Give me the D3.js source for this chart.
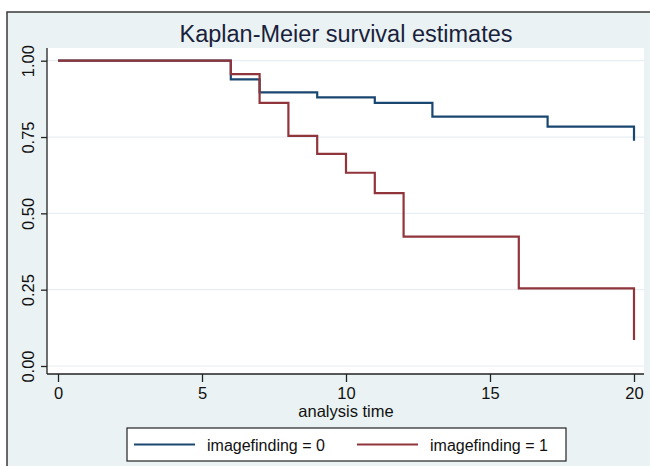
<!DOCTYPE html>
<html>
<head>
<meta charset="utf-8">
<script src="https://cdn.jsdelivr.net/npm/d3@7"></script>
<style>
  body { margin: 0; background: #fff; }
  svg text { font-family: "Liberation Sans", Arial, sans-serif; }
</style>
</head>
<body>
<svg id="km"></svg>
<script>
// Data
let groupNames = ['imagefinding = 0', 'imagefinding = 1'];
let times0 = [0, 6, 7, 9, 11, 13, 17, 20];
let surv0 = [1, 0.939, 0.896, 0.880, 0.862, 0.817, 0.784, 0.738];
let times1 = [0, 6, 7, 8, 9, 10, 11, 12, 16, 20];
let surv1 = [1, 0.956, 0.862, 0.754, 0.695, 0.633, 0.566, 0.424, 0.254, 0.085];
let xTicks = [0, 5, 10, 15, 20];
let yTicks = [0, 0.25, 0.5, 0.75, 1];

let width = 650;
let height = 466;
let colors = ['#1a476f', '#90353b'];

let svg = d3.select('#km').attr('width', width).attr('height', height);

// outer graph region
svg.append('rect')
    .attr('x', 7).attr('y', 12)
    .attr('width', width).attr('height', height)
    .attr('fill', '#eaf2f3')
    .attr('stroke', '#3a3a3a')
    .attr('stroke-width', 1.5);

// plot region
let plot = {left: 47, right: 644, top: 48, bottom: 374};
svg.append('rect')
    .attr('x', plot.left).attr('y', plot.top)
    .attr('width', plot.right - plot.left)
    .attr('height', plot.bottom - plot.top)
    .attr('fill', '#fff');

let xScale = d3.scaleLinear().domain([0, 20]).range([58, 634]);
let yScale = d3.scaleLinear().domain([0, 1]).range([366, 60.7]);

// grid
svg.append('g')
    .selectAll('line')
    .data(yTicks)
    .enter()
    .append('line')
    .attr('x1', plot.left).attr('x2', plot.right)
    .attr('y1', d => yScale(d)).attr('y2', d => yScale(d))
    .attr('stroke', '#e6eef2')
    .attr('stroke-width', 1.2);

// axes
let xAxis = d3.axisBottom(xScale).tickValues(xTicks).tickSize(8).tickPadding(5).tickFormat(d3.format('d'));
let yAxis = d3.axisLeft(yScale).tickValues(yTicks).tickSize(6).tickPadding(6).tickFormat(d3.format('.2f'));

let gx = svg.append('g')
    .attr('transform', 'translate(0,' + plot.bottom + ')')
    .call(xAxis);
gx.select('.domain').attr('d', 'M' + plot.left + ',0H' + plot.right);

let gy = svg.append('g')
    .attr('transform', 'translate(' + plot.left + ',0)')
    .call(yAxis);
gy.select('.domain').attr('d', 'M0,' + plot.top + 'V' + plot.bottom);

[gx, gy].forEach(g => {
    g.selectAll('.domain, line').attr('stroke', '#222').attr('stroke-width', 1.3);
    g.selectAll('text').attr('fill', '#111').style('font-size', '16.5px')
        .style('font-family', '"Liberation Sans", Arial, sans-serif');
});

gy.selectAll('.tick text')
    .attr('text-anchor', 'middle')
    .attr('dy', null)
    .attr('x', 0)
    .attr('transform', 'translate(-13,0) rotate(-90)')
    .attr('y', 0)
    .attr('dominant-baseline', 'auto');

// curves
let line = d3.line()
    .x(d => xScale(d[0]))
    .y(d => yScale(d[1]))
    .curve(d3.curveStepAfter);

let series = [
    times0.map((t, i) => [t, surv0[i]]),
    times1.map((t, i) => [t, surv1[i]])
];

svg.append('g')
    .selectAll('path')
    .data(series)
    .enter()
    .append('path')
    .attr('d', line)
    .attr('fill', 'none')
    .attr('stroke', (d, i) => colors[i])
    .attr('stroke-width', 2.2);

// title
svg.append('text')
    .attr('x', 346).attr('y', 42)
    .attr('text-anchor', 'middle')
    .style('font-size', '23.5px')
    .attr('fill', '#1a1f3c')
    .text('Kaplan-Meier survival estimates');

// x label
svg.append('text')
    .attr('x', 346).attr('y', 417)
    .attr('text-anchor', 'middle')
    .style('font-size', '16.5px')
    .attr('fill', '#111')
    .text('analysis time');

// legend
let legend = svg.append('g');
legend.append('rect')
    .attr('x', 127).attr('y', 428)
    .attr('width', 439).attr('height', 33)
    .attr('fill', '#fff')
    .attr('stroke', '#222')
    .attr('stroke-width', 1.2);

let legendX = [134, 357];
groupNames.forEach((name, i) => {
    legend.append('line')
        .attr('x1', legendX[i]).attr('x2', legendX[i] + 61)
        .attr('y1', 444.5).attr('y2', 444.5)
        .attr('stroke', colors[i])
        .attr('stroke-width', 2.2);
    legend.append('text')
        .attr('x', legendX[i] + 73).attr('y', 450.5)
        .style('font-size', '16px')
        .attr('fill', '#111')
        .text(name);
});
</script>
</body>
</html>
